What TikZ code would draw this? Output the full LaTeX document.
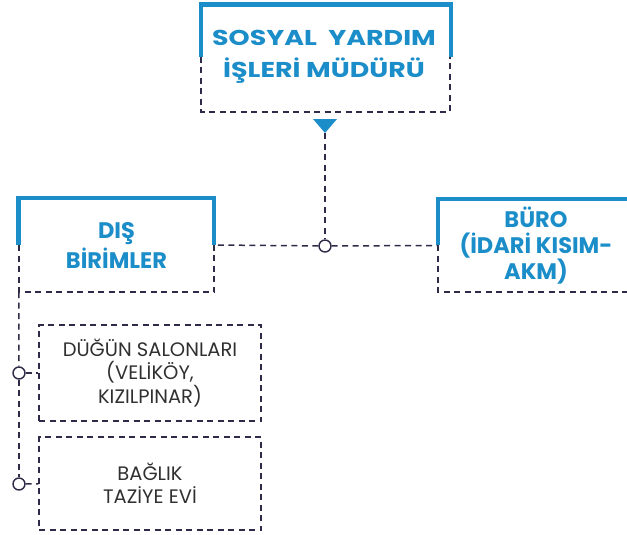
\documentclass[tikz,border=0pt]{standalone}
\usepackage{fontspec}
\setmainfont{Poppins}
\newfontfamily\titlefont[FakeStretch=1.25]{Poppins}
\definecolor{bblue}{HTML}{1B8DC8}
\definecolor{dnavy}{HTML}{2E2B48}
\definecolor{tgrey}{HTML}{303030}
\begin{document}
\begin{tikzpicture}[x=1pt,y=-1pt,
  frame/.style={line width=4.5pt, bblue},
  dline/.style={dnavy, line width=1.5pt, dash pattern=on 6pt off 4.5pt},
  head/.style={text=bblue, align=center, inner sep=0pt},
  sub/.style={font=\fontsize{19.5}{23.5}\selectfont, text=tgrey, align=center, inner sep=0pt},
  dot/.style={circle, draw=dnavy, fill=white, line width=1.4pt, minimum size=12pt, inner sep=0pt}]
\useasboundingbox (0,0) rectangle (627,535);

% top box
\draw[frame] (201,57) -- (201,4.5) -- (451,4.5) -- (451,57);
\draw[dline] (201,57) -- (201,112) -- (450,112) -- (450,57);
\node[head, font=\titlefont\bfseries\fontsize{21.5}{32}\selectfont, minimum width=250pt, minimum height=108pt] (top) at (324,57) {SOSYAL~ YARDIM\\İŞLERİ MÜDÜRÜ};

% triangle
\fill[bblue] (313,119) -- (337,119) -- (325,133) -- cycle;
\coordinate (tri) at (325,133);

% DIŞ BİRİMLER
\draw[frame] (18.5,245) -- (18.5,198) -- (214,198) -- (214,245);
\draw[dline] (19,245) -- (19,292) -- (214,292) -- (214,245);
\node[head, font=\bfseries\fontsize{22.5}{30}\selectfont, minimum width=195pt, minimum height=94pt] (dis) at (116.5,245) {DIŞ\\BİRİMLER};

% BÜRO
\draw[frame] (438,245) -- (438,199) -- (632,199);
\draw[dline] (438,245) -- (438,292) -- (632,292);
\node[head, font=\bfseries\fontsize{22.5}{26}\selectfont, minimum width=196pt, minimum height=93pt] (buro) at (536,245.5) {BÜRO\\(İDARİ KISIM-\\AKM)};

% connectors top
\node[dot] (c1) at (325,246) {};
\draw[dline] (tri) -- (c1);
\draw[dline] (c1) -- (dis.east);
\draw[dline] (c1) -- (buro.west);

% sub units
\node[sub, draw=dnavy, dline, text=tgrey, minimum width=222pt, minimum height=96pt] (b1) at (150,373) {DÜĞÜN SALONLARI\\(VELİKÖY,\\KIZILPINAR)};
\node[sub, draw=dnavy, dline, text=tgrey, minimum width=222pt, minimum height=93pt] (b2) at (150,483.5) {BAĞLIK\\TAZİYE EVİ};

\node[dot] (c2) at (19,373) {};
\node[dot] (c3) at (19,484) {};
\draw[dline] (dis.south west) -- (c2);
\draw[dline] (c2) -- (c3);
\draw[dline] (c2) -- (b1);
\draw[dline] (c3) -- (b2);
\end{tikzpicture}
\end{document}
